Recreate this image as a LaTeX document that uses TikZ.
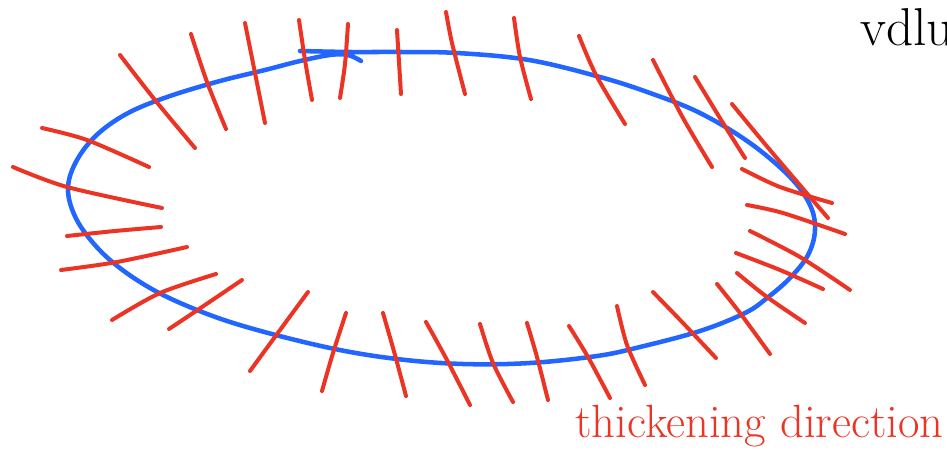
\documentclass[tikz,border=0pt]{standalone}
\definecolor{penred}{RGB}{236,52,36}
\definecolor{penblue}{RGB}{34,102,255}
\begin{document}
\begin{tikzpicture}[
    x=0.75pt, y=-0.75pt,
    redline/.style={penred, line width=3pt, line cap=round, line join=round},
    blueline/.style={penblue, line width=3.4pt, line cap=round, line join=round},
    scribble/.style={inner sep=0pt, anchor=base west, font=\fontsize{35}{38}\selectfont}
  ]
  \useasboundingbox (0,0) rectangle (947,454);
  \draw[blueline] plot[smooth, tension=0.6] coordinates {
    (300,51) (350,52) (400,52) (457,53) (529,60) (600,77) (650,93) (700,113)
    (750,143) (790,177) (810,205) (815,230) (808,255) (790,278) (767,298)
    (745,313) (700,331) (640,347) (597,356) (530,363) (463,364) (397,359)
    (330,348) (250,328) (197,310) (150,288) (110,260) (83,230) (70,203)
    (69,180) (80,155) (100,132) (130,112) (170,96) (220,81) (265,70)
    (300,61) (330,55) (348,55) (361,61)};
  \foreach \ax/\ay/\bx/\by/\cx/\cy in {
      120/55/155/100/195/148, 191/34/207/82/226/129, 245/23/255/73/265/123,
      299/20/305/60/312/100, 348/24/345/64/340/98, 397/30/399/62/401/94,
      446/12/452/43/465/94, 514/18/520/57/531/99, 579/36/596/75/625/124,
      653/60/683/118/712/167, 695/77/723/123/745/158, 732/104/770/150/828/218,
      742/169/780/187/832/203, 747/205/783/213/845/234, 750/231/800/257/850/290,
      736/253/780/270/823/289, 737/273/767/297/805/323, 717/284/740/313/770/354,
      653/292/683/323/716/358, 308/292/280/330/250/371, 346/313/333/353/322/391,
      383/313/395/355/406/396, 426/322/447/360/470/405, 480/324/493/363/513/402,
      527/323/537/357/548/400, 569/326/588/357/610/398, 617/306/627/345/645/385,
      42/128/87/140/149/167, 13/167/67/187/162/208, 67/236/115/231/161/227,
      61/270/117/262/187/247, 112/320/160/293/216/274, 169/329/205/305/242/280}
    \draw[redline] plot[smooth] coordinates {(\ax,\ay) (\bx,\by) (\cx,\cy)};
  \node[scribble, penred] (thickening) at (575,437) {thickening direction};
  \node[scribble, font=\fontsize{40}{42}\selectfont] (vd) at (860,45) {vdlu};
\end{tikzpicture}
\end{document}
